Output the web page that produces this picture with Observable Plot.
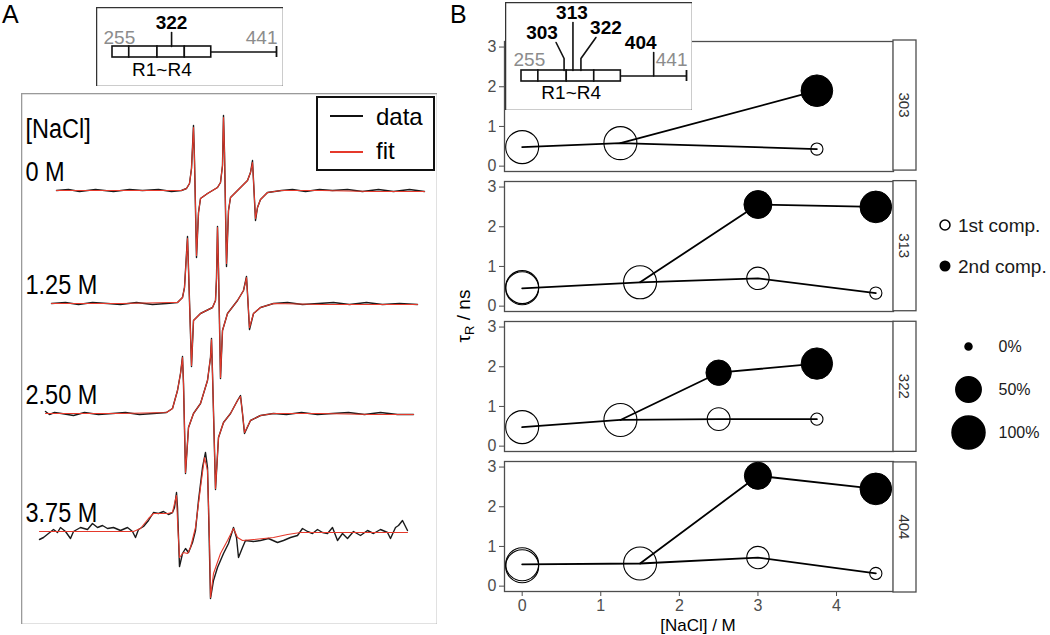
<!DOCTYPE html>
<html>
<head>
<meta charset="utf-8">
<script src="https://cdn.jsdelivr.net/npm/d3@7"></script>
<script src="https://cdn.jsdelivr.net/npm/@observablehq/plot@0.6"></script>
<style>
  html, body { margin: 0; padding: 0; background: #fff; }
  #root { position: relative; width: 1050px; height: 635px; overflow: hidden; background: #fff;
          font-family: "Liberation Sans", Arial, sans-serif; }
  #root > div { position: absolute; }
  #root svg { display: block; }
</style>
</head>
<body>
<div id="root"></div>
<script>
// ================= DATA =================
// Panel A: EPR spectra (site 322) at four NaCl concentrations. [field (a.u.), intensity (a.u.)]
const spectrumLabels = ["0 M", "1.25 M", "2.50 M", "3.75 M"];

const fit_0M = [[35,0],[80,0],[130,0],[160,0],[165,2],[168,7],[170,22],[172,63],[173,30],[175,-65],[177,-22],[179,-8],[186,-3],[196,3],[199,8],[201,25],[202,73],[203,38],[205,-73],[207,-20],[209,-7],[216,0],[226,10],[229,18],[231,28],[232,10],[234,-28],[236,-17],[239,-9],[246,-2],[260,0],[300,0],[350,-1],[403,-1]];
const data_0M = [[35,0],[47,1],[58,-1],[74,1],[92,-1],[108,1],[121,0],[137,1],[150,-1],[160,0],[165,2],[168,7],[170,22],[172,65],[173,30],[175,-67],[177,-22],[179,-8],[186,-3],[196,3],[199,8],[201,25],[202,75],[203,38],[205,-76],[207,-20],[209,-7],[216,0],[226,10],[229,18],[231,30],[232,10],[234,-30],[236,-17],[239,-9],[246,-2],[260,0],[271,1],[284,-1],[298,1],[311,0],[326,1],[341,-1],[357,1],[372,-1],[388,1],[403,-1]];

const fit_125M = [[30,0],[100,0],[150,1],[156,1],[161,6],[163,16],[166,65],[167,35],[170,-62],[172,-17],[179,-10],[191,-4],[194,3],[195,25],[196,76],[197,35],[199,-74],[201,-27],[206,-10],[216,3],[222,13],[225,26],[226,10],[228,-24],[232,-10],[239,-4],[252,0],[300,-1],[350,-1],[396,-1]];
const data_125M = [[30,0],[44,1],[57,-1],[71,1],[86,0],[99,-1],[115,1],[131,-1],[145,0],[156,1],[161,6],[163,16],[166,67],[167,35],[170,-63],[172,-17],[179,-10],[191,-4],[194,3],[195,25],[196,77],[197,35],[199,-75],[201,-27],[206,-10],[216,3],[222,13],[225,27],[226,10],[228,-26],[232,-10],[239,-4],[252,0],[266,1],[281,-1],[297,0],[312,1],[328,-1],[345,1],[361,-1],[378,0],[396,-1]];

const fit_250M = [[24,0],[100,0],[145,1],[151,5],[156,23],[159,40],[161,56],[162,30],[164,-59],[167,-14],[172,0],[179,10],[186,33],[189,56],[190,74],[191,40],[194,-75],[197,-24],[202,-9],[209,0],[216,13],[219,17],[221,0],[223,-19],[229,-7],[239,-2],[252,0],[300,0],[350,-1],[392,-1]];
const data_250M = [[24,2],[28,-1],[33,1],[40,0],[52,-2],[63,1],[77,-1],[91,0],[104,1],[118,-1],[132,0],[145,1],[151,5],[156,23],[159,40],[161,57],[162,30],[164,-60],[167,-14],[172,0],[179,10],[186,33],[189,56],[190,75],[191,40],[194,-76],[197,-24],[202,-9],[209,0],[216,13],[219,18],[221,0],[223,-20],[229,-7],[235,-4],[239,-2],[252,0],[265,-1],[280,1],[296,-1],[311,0],[327,1],[343,-1],[359,1],[376,-1],[392,-1]];

const fit_375M = [[18,0],[112,0],[119,3],[127,13],[132,18],[146,18],[151,19],[153,28],[155,36],[156,11],[158,-26],[162,-21],[166,-22],[169,-16],[174,4],[179,44],[183,74],[186,61],[188,-9],[189,-66],[192,-42],[199,-22],[206,-9],[212,3],[216,-6],[221,-9],[232,-8],[252,-6],[266,-3],[279,-1],[386,-1]];
const data_375M = [[18,-8],[22,-6],[27,-2],[32,2],[36,-1],[39,4],[44,0],[49,-7],[52,0],[59,4],[66,2],[71,8],[76,4],[81,6],[86,3],[92,4],[99,1],[106,4],[111,0],[114,-6],[117,2],[122,5],[127,11],[132,19],[137,18],[142,20],[147,17],[151,19],[153,24],[155,39],[156,24],[158,-35],[161,-22],[164,-17],[167,-21],[171,-11],[174,1],[177,31],[181,64],[184,79],[186,64],[187,24],[189,-67],[192,-49],[196,-36],[202,-22],[207,-12],[212,4],[215,-6],[217,-26],[221,-16],[224,-9],[232,-10],[239,-9],[247,-7],[256,-11],[262,-9],[269,-6],[276,-4],[281,3],[286,0],[291,-2],[296,2],[301,-1],[306,-2],[311,4],[316,-9],[321,-2],[326,-7],[332,0],[339,-4],[346,1],[352,-2],[359,2],[366,-1],[369,-7],[374,4],[377,6],[381,11],[386,1]];

// Panel B: rotational correlation time tau_R (ns) vs [NaCl] (M), per labelled site
const sites = ["303", "313", "322", "404"];

const conc_303  = [0, 1.25, 3.75];
const tau1_303  = [0.48, 0.58, 0.43];
const frac1_303 = [1, 1, 0.04];
const tau2_303  = [null, null, 1.9];
const frac2_303 = [null, null, 0.9];

const conc_313  = [0, 1.5, 3, 4.5];
const tau1_313  = [0.45, 0.6, 0.7, 0.33];
const frac1_313 = [1, 1, 0.35, 0.04];
const tau2_313  = [null, null, 2.56, 2.5];
const frac2_313 = [null, null, 0.65, 0.9];

const conc_322  = [0, 1.25, 2.5, 3.75];
const tau1_322  = [0.48, 0.66, 0.68, 0.68];
const frac1_322 = [1, 1, 0.37, 0.04];
const tau2_322  = [null, null, 1.85, 2.08];
const frac2_322 = [null, null, 0.5, 0.88];

const conc_404  = [0, 1.5, 3, 4.5];
const tau1_404  = [0.55, 0.57, 0.72, 0.32];
const frac1_404 = [1, 1, 0.35, 0.04];
const tau2_404  = [null, null, 2.78, 2.45];
const frac2_404 = [null, null, 0.6, 0.9];

// repeated measurement at 0 M (second open circle)
const rep0_site = ["313", "404"];
const rep0_tau  = [0.48, 0.5];
const rep0_frac = [1, 1];

// axis ticks
const xTicks = [0, 1, 2, 3, 4];
const yTicks = [0, 1, 2, 3];

// size legend
const sizeLegendFrac  = [0, 0.5, 1];
const sizeLegendLabel = ["0%", "50%", "100%"];

// domain schematic (residue numbers)
const repeatBounds = [255, 274, 306, 337, 367]; // R1~R4
const domainEnd = 441;
const insetSitesA = ["322"];
const insetSitesB = ["303", "313", "322", "404"];

// ================= RENDER =================
const FONT = '"Liberation Sans", Arial, sans-serif';
const root = document.getElementById("root");
function place(node, left, top) {
  const div = document.createElement("div");
  div.style.left = left + "px";
  div.style.top = top + "px";
  div.appendChild(node);
  root.appendChild(div);
  return node;
}
const mid = (baseline, fs) => baseline - 0.32 * fs; // anchor for a given text baseline

// ---------- Panel A spectra ----------
const stackOffset = [-97, -210, -320, -438];
const spectra = [[data_0M, fit_0M], [data_125M, fit_125M], [data_250M, fit_250M], [data_375M, fit_375M]];
const dataRows = [], fitRows = [];
spectra.forEach(([dat, fit], i) => {
  dat.forEach(([f, v]) => dataRows.push({label: spectrumLabels[i], field: f, v: v + stackOffset[i]}));
  fit.forEach(([f, v]) => fitRows.push({label: spectrumLabels[i], field: f, v: v + stackOffset[i]}));
});
const LBL = 27;
const specPlot = Plot.plot({
  width: 416, height: 531, margin: 0,
  x: {domain: [0, 416], axis: null},
  y: {domain: [-531, 0], axis: null},
  style: {background: "white", maxWidth: "none", fontFamily: FONT},
  marks: [
    Plot.line(dataRows, {x: "field", y: "v", z: "label", stroke: "#1a1a1a", strokeWidth: 1.4}),
    Plot.line(fitRows, {x: "field", y: "v", z: "label", stroke: "#e5392b", strokeWidth: 1.1}),
    Plot.text(spectrumLabels, {x: 4, y: (d, i) => stackOffset[i] + 10 + 0.32 * LBL, text: d => d,
      textAnchor: "start", fontSize: LBL, fill: "#000"}),
    Plot.text(["[NaCl]"], {x: 4, y: stackOffset[0] + 53 + 0.32 * LBL, text: d => d,
      textAnchor: "start", fontSize: LBL, fill: "#000"}),
    Plot.frame({stroke: "#9a9a9a", strokeWidth: 1.6})
  ]
});
place(specPlot, 21, 93);
specPlot.querySelectorAll("text").forEach(t => {
  const L = t.getComputedTextLength();
  t.setAttribute("textLength", (L * 0.87).toFixed(1));
  t.setAttribute("lengthAdjust", "spacingAndGlyphs");
});

// ---------- domain schematic insets ----------
function inset(siteList, o) {
  const k = (domainEnd - repeatBounds[0]) / (o.x1 - o.x0); // residues per pixel
  const segs = d3.pairs(repeatBounds).map(([a, b]) => ({a, b}));
  const leaderRows = [];
  siteList.forEach(s => o.leaders[s].pts.forEach(([dx, y]) => leaderRows.push({site: s, x: +s + dx * k, y})));
  const barMid = (o.barTop + o.barBottom) / 2;
  const FS = 19;
  return Plot.plot({
    width: o.width, height: o.height, margin: 0,
    x: {domain: [repeatBounds[0], domainEnd], range: [o.x0, o.x1], axis: null},
    y: {domain: [0, o.height], range: [0, o.height], axis: null},
    style: {background: "white", maxWidth: "none", fontFamily: FONT},
    marks: [
      Plot.frame({stroke: "#333", strokeWidth: 1.5, fill: "white"}),
      Plot.ruleY([barMid], {x1: repeatBounds[repeatBounds.length - 1], x2: domainEnd, stroke: "#111", strokeWidth: 1.6}),
      Plot.ruleX([domainEnd], {y1: o.barTop, y2: o.barBottom, stroke: "#111", strokeWidth: 1.8}),
      Plot.rect(segs, {x1: "a", x2: "b", y1: o.barTop, y2: o.barBottom, fill: "white", stroke: "#111", strokeWidth: 1.6}),
      Plot.line(leaderRows, {x: "x", y: "y", z: "site", stroke: "#111", strokeWidth: 1.6}),
      Plot.text(siteList, {x: d => +d + o.leaders[d].label.dx * k, y: d => mid(o.leaders[d].label.y, FS),
        text: d => d, fontWeight: "bold", fontSize: FS, fill: "#000"}),
      Plot.text([repeatBounds[0]], {x: d => d, y: mid(o.numBase, FS), dx: o.startDx, text: d => String(d),
        textAnchor: "start", fontSize: FS, fill: "#8c8c8c"}),
      Plot.text([domainEnd], {x: d => d, y: mid(o.numBase, FS), dx: 1, text: d => String(d),
        textAnchor: "end", fontSize: FS, fill: "#8c8c8c"}),
      Plot.text(["R1~R4"], {x: (repeatBounds[0] + repeatBounds[repeatBounds.length - 1]) / 2,
        y: mid(o.rBase, FS), text: d => d, fontSize: FS, fill: "#000"})
    ]
  });
}

// ---------- Panel B ----------
const siteData = {
  "303": {conc: conc_303, tau1: tau1_303, frac1: frac1_303, tau2: tau2_303, frac2: frac2_303},
  "313": {conc: conc_313, tau1: tau1_313, frac1: frac1_313, tau2: tau2_313, frac2: frac2_313},
  "322": {conc: conc_322, tau1: tau1_322, frac1: frac1_322, tau2: tau2_322, frac2: frac2_322},
  "404": {conc: conc_404, tau1: tau1_404, frac1: frac1_404, tau2: tau2_404, frac2: frac2_404}
};
const rowsB = [];
for (const s of sites) {
  const d = siteData[s];
  let branch = 0;
  d.conc.forEach((c, i) => {
    rowsB.push({site: s, type: "dot", comp: 1, conc: c, tau: d.tau1[i], frac: d.frac1[i]});
    rowsB.push({site: s, type: "line", series: s + "-1", conc: c, tau: d.tau1[i]});
    if (d.tau2[i] == null) branch = i;
    else rowsB.push({site: s, type: "dot", comp: 2, conc: c, tau: d.tau2[i], frac: d.frac2[i]});
  });
  // second component branches off from the last single-component point
  rowsB.push({site: s, type: "line", series: s + "-2", conc: d.conc[branch], tau: d.tau1[branch]});
  d.conc.forEach((c, i) => {
    if (d.tau2[i] != null) rowsB.push({site: s, type: "line", series: s + "-2", conc: c, tau: d.tau2[i]});
  });
}
rep0_site.forEach((s, i) => rowsB.push({site: s, type: "dot", comp: 1, conc: 0, tau: rep0_tau[i], frac: rep0_frac[i]}));

const rScale = {type: "sqrt", domain: [0, 1], range: [3.5, 16.5]};
const PB = {left: 450, top: 30, width: 480, height: 605, mL: 54, mR: 37, mT: 10, mB: 43};
const fyPadInner = 0.075;
const plotB = Plot.plot({
  width: PB.width, height: PB.height,
  marginLeft: PB.mL, marginRight: PB.mR, marginTop: PB.mT, marginBottom: PB.mB,
  style: {background: "transparent", maxWidth: "none", fontFamily: FONT, fontSize: "16px", color: "#4d4d4d"},
  facet: {data: rowsB, y: "site"},
  fy: {domain: sites, paddingInner: fyPadInner, paddingOuter: 0, axis: null, label: null},
  x: {domain: [-0.225, 4.725], ticks: xTicks, tickFormat: d => String(d), label: null, tickSize: 5, tickPadding: 3},
  y: {domain: [-0.135, 3.14], ticks: yTicks, tickFormat: d => String(d), label: null, tickSize: 5, tickPadding: 3},
  r: rScale,
  marks: [
    Plot.frame({stroke: "#4d4d4d", strokeWidth: 1.3}),
    Plot.line(rowsB, {filter: d => d.type === "line", x: "conc", y: "tau", z: "series", stroke: "#000", strokeWidth: 1.8}),
    Plot.dot(rowsB, {filter: d => d.type === "dot" && d.comp === 1, x: "conc", y: "tau", r: "frac",
      fill: "none", stroke: "#000", strokeWidth: 1.1}),
    Plot.dot(rowsB, {filter: d => d.type === "dot" && d.comp === 2, x: "conc", y: "tau", r: "frac",
      fill: "#000", stroke: "#000", strokeWidth: 1})
  ]
});
place(plotB, PB.left, PB.top);

// inset of panel B (drawn over the first facet)
place(inset(insetSitesB, {
  width: 187, height: 108, x0: 16, x1: 181, barTop: 68, barBottom: 79, numBase: 63, rBase: 96, startDx: -8,
  leaders: {
    "303": {pts: [[0, 68], [0, 56], [-8, 40]], label: {dx: -22, y: 36}},
    "313": {pts: [[0, 68], [0, 20]], label: {dx: -1, y: 16}},
    "322": {pts: [[0, 68], [0, 56], [15, 35]], label: {dx: 25, y: 31}},
    "404": {pts: [[0, 73.5], [0, 50]], label: {dx: -13, y: 46}}
  }
}), 505, 2);

// inset of panel A
place(inset(insetSitesA, {
  width: 187, height: 79, x0: 16, x1: 180, barTop: 39, barBottom: 50, numBase: 36, rBase: 68, startDx: -9,
  leaders: {"322": {pts: [[0, 39], [0, 25]], label: {dx: 0, y: 21}}}
}), 96, 7);

// size legend (same r scale as the chart)
const sizeLegend = sizeLegendFrac.map((f, i) => ({frac: f, label: sizeLegendLabel[i]}));
place(Plot.plot({
  width: 110, height: 140, margin: 0,
  style: {background: "transparent", maxWidth: "none", fontFamily: FONT},
  x: {domain: [0, 1], range: [28, 58], axis: null},
  y: {type: "point", domain: sizeLegendLabel, range: [26, 112], padding: 0, axis: null},
  r: rScale,
  marks: [
    Plot.dot(sizeLegend, {x: 0, y: "label", r: "frac", fill: "#000", stroke: "#000"}),
    Plot.text(sizeLegend, {x: 1, y: "label", text: "label", textAnchor: "start", fontSize: 16, fill: "#1a1a1a"})
  ]
}), 940, 320);

// ---------- overlay: panel letters, strips, titles, legends ----------
const svg = d3.select(root).append("div").style("left", "0px").style("top", "0px").style("pointer-events", "none")
  .append("svg").attr("width", 1050).attr("height", 635)
  .style("font-family", FONT);

svg.append("text").attr("x", 2).attr("y", 23).attr("font-size", 25).text("A");
svg.append("text").attr("x", 450).attr("y", 23).attr("font-size", 25).text("B");

// facet strips
const fyH = PB.height - PB.mT - PB.mB;
const step = fyH / (sites.length - fyPadInner);
const band = step * (1 - fyPadInner);
const stripX = PB.left + PB.width - PB.mR;
sites.forEach((s, i) => {
  const y0 = PB.top + PB.mT + i * step;
  svg.append("rect").attr("x", stripX).attr("y", y0).attr("width", 23).attr("height", band)
    .attr("fill", "white").attr("stroke", "#4d4d4d").attr("stroke-width", 1.3);
  svg.append("text").attr("transform", `translate(${stripX + 11.5},${y0 + band / 2}) rotate(90)`)
    .attr("text-anchor", "middle").attr("dy", "0.35em").attr("font-size", 15).attr("fill", "#333").text(s);
});

// axis titles of panel B
const yt = svg.append("text").attr("transform", "translate(470,316) rotate(-90)")
  .attr("text-anchor", "middle").attr("font-size", 19).attr("fill", "#000");
yt.append("tspan").text("τ");
yt.append("tspan").attr("font-size", 13).attr("dy", 4).text("R");
yt.append("tspan").attr("dy", -4).text(" / ns");
svg.append("text").attr("x", 698).attr("y", 631).attr("text-anchor", "middle").attr("font-size", 17)
  .attr("fill", "#000").text("[NaCl] / M");

// legend of panel A
const lg = svg.append("g").attr("transform", "translate(316,96)");
lg.append("rect").attr("x", 1).attr("y", 1).attr("width", 117).attr("height", 73)
  .attr("fill", "white").attr("stroke", "#111").attr("stroke-width", 2);
lg.append("line").attr("x1", 14).attr("x2", 47).attr("y1", 20).attr("y2", 20).attr("stroke", "#111").attr("stroke-width", 2);
lg.append("line").attr("x1", 14).attr("x2", 47).attr("y1", 56).attr("y2", 56).attr("stroke", "#e5392b").attr("stroke-width", 2);
lg.append("text").attr("x", 60).attr("y", 29).attr("font-size", 24).text("data");
lg.append("text").attr("x", 60).attr("y", 63).attr("font-size", 24).text("fit");

// component legend of panel B
const cg = svg.append("g");
cg.append("circle").attr("cx", 945).attr("cy", 225).attr("r", 5).attr("fill", "none").attr("stroke", "#000").attr("stroke-width", 1.5);
cg.append("circle").attr("cx", 945).attr("cy", 266).attr("r", 5.5).attr("fill", "#000");
cg.append("text").attr("x", 958).attr("y", 225).attr("dy", "0.35em").attr("font-size", 19).attr("fill", "#1a1a1a").text("1st comp.");
cg.append("text").attr("x", 958).attr("y", 266).attr("dy", "0.35em").attr("font-size", 19).attr("fill", "#1a1a1a").text("2nd comp.");
</script>
</body>
</html>
